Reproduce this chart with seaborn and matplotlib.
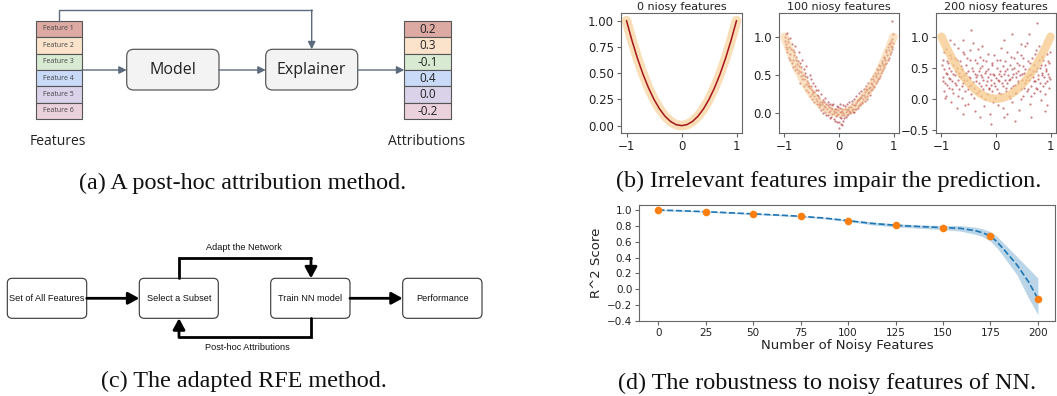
import matplotlib
matplotlib.use("Agg")
import matplotlib.pyplot as plt
from matplotlib.patches import Rectangle, FancyBboxPatch
import seaborn as sns

sns.set_style("ticks")
plt.rcParams['font.family'] = ['DejaVu Sans']

# ---------------- data ----------------
feature_names = ['Feature 1', 'Feature 2', 'Feature 3', 'Feature 4', 'Feature 5', 'Feature 6']
feature_colors = ['#dcaaa3', '#fbe3cb', '#d9ead3', '#c9daf8', '#d9d2e9', '#ead1dc']
attributions = [0.2, 0.3, -0.1, 0.4, 0.0, -0.2]

rfe_boxes = ['Set of All Features', 'Select a Subset', 'Train NN model', 'Performance']
loop_labels = ['Adapt the Network', 'Post-hoc Attributions']

noise_titles = ['0 niosy features', '100 niosy features', '200 niosy features']

# true target curve (orange band) and noiseless prediction (red line)
true_x = [-1.0, -0.9, -0.8, -0.7, -0.6, -0.5, -0.4, -0.3, -0.2, -0.1, 0.0,
          0.1, 0.2, 0.3, 0.4, 0.5, 0.6, 0.7, 0.8, 0.9, 1.0]
true_y = [1.0, 0.81, 0.64, 0.49, 0.36, 0.25, 0.16, 0.09, 0.04, 0.01, 0.0,
          0.01, 0.04, 0.09, 0.16, 0.25, 0.36, 0.49, 0.64, 0.81, 1.0]
pred0_y = [1.0, 0.81, 0.64, 0.49, 0.36, 0.25, 0.16, 0.09, 0.04, 0.01, 0.0,
           0.01, 0.04, 0.09, 0.16, 0.25, 0.36, 0.49, 0.64, 0.81, 1.0]

pred100_points = [
    (-0.99, 0.95), (-0.98, 0.87), (-0.97, 1.03), (-0.95, 0.80), (-0.94, 0.93), (-0.92, 0.72),
    (-0.91, 0.86), (-0.90, 0.98), (-0.89, 0.78), (-0.87, 0.90), (-0.86, 0.65), (-0.85, 0.82),
    (-0.84, 0.70), (-0.82, 0.76), (-0.81, 0.88), (-0.80, 0.62), (-0.78, 0.74), (-0.77, 0.58),
    (-0.76, 0.68), (-0.74, 0.80), (-0.73, 0.55), (-0.72, 0.66), (-0.70, 0.48), (-0.69, 0.60),
    (-0.68, 0.70), (-0.66, 0.50), (-0.65, 0.58), (-0.64, 0.44), (-0.62, 0.52), (-0.61, 0.62),
    (-0.60, 0.38), (-0.58, 0.47), (-0.57, 0.36), (-0.56, 0.40), (-0.54, 0.50), (-0.53, 0.33),
    (-0.52, 0.44), (-0.50, 0.25), (-0.49, 0.30), (-0.48, 0.40), (-0.46, 0.22), (-0.45, 0.28),
    (-0.44, 0.36), (-0.42, 0.19), (-0.41, 0.24), (-0.40, 0.16), (-0.38, 0.30), (-0.37, 0.12),
    (-0.36, 0.20), (-0.34, 0.10), (-0.33, 0.25), (-0.32, 0.14), (-0.30, 0.06), (-0.29, 0.17),
    (-0.28, 0.09), (-0.26, 0.20), (-0.25, 0.02), (-0.24, 0.12), (-0.22, 0.06), (-0.21, 0.15),
    (-0.20, -0.02), (-0.18, 0.08), (-0.17, 0.03), (-0.16, 0.12), (-0.14, -0.05), (-0.13, 0.05),
    (-0.12, 0.10), (-0.10, 0.00), (-0.09, -0.08), (-0.08, 0.06), (-0.06, 0.02), (-0.05, -0.04),
    (-0.04, 0.09), (-0.02, -0.01), (-0.01, 0.04), (0.00, -0.12), (0.01, 0.01), (0.02, 0.07),
    (0.03, -0.06), (0.05, 0.03), (0.06, -0.02), (0.07, 0.10), (0.08, 0.00), (0.10, -0.07),
    (0.11, 0.05), (0.12, 0.02), (0.14, 0.12), (0.15, -0.03), (0.16, 0.06), (0.18, 0.03),
    (0.19, 0.14), (0.20, 0.00), (0.22, 0.08), (0.23, 0.04), (0.24, 0.16), (0.26, 0.02),
    (0.27, 0.10), (0.28, 0.19), (0.30, 0.06), (0.31, 0.13), (0.32, 0.22), (0.34, 0.09),
    (0.35, 0.17), (0.36, 0.26), (0.38, 0.12), (0.39, 0.20), (0.40, 0.29), (0.42, 0.15),
    (0.43, 0.24), (0.44, 0.18), (0.46, 0.32), (0.47, 0.21), (0.48, 0.27), (0.50, 0.36),
    (0.51, 0.23), (0.52, 0.30), (0.54, 0.40), (0.55, 0.27), (0.56, 0.34), (0.58, 0.44),
    (0.59, 0.30), (0.60, 0.38), (0.62, 0.48), (0.63, 0.36), (0.64, 0.42), (0.66, 0.52),
    (0.67, 0.40), (0.68, 0.47), (0.70, 0.58), (0.71, 0.44), (0.72, 0.53), (0.74, 0.63),
    (0.75, 0.49), (0.76, 0.58), (0.78, 0.68), (0.79, 0.55), (0.80, 0.63), (0.82, 0.74),
    (0.83, 0.60), (0.84, 0.70), (0.86, 0.80), (0.87, 0.66), (0.88, 0.76), (0.90, 0.86),
    (0.91, 0.72), (0.92, 0.82), (0.94, 0.92), (0.95, 0.80), (0.96, 0.88), (0.97, 0.97),
    (0.98, 0.86), (0.99, 1.04), (0.97, 1.20), (0.00, -0.20), (-0.95, 1.05), (0.05, -0.16),
    (-0.96, 0.84), (-0.93, 0.97), (-0.90, 0.70), (-0.88, 0.84), (-0.85, 0.60), (-0.83, 0.80),
    (-0.81, 0.57), (-0.79, 0.70), (-0.77, 0.64), (-0.75, 0.52), (-0.73, 0.62), (-0.71, 0.40),
    (-0.69, 0.54), (-0.67, 0.45), (-0.65, 0.36), (-0.63, 0.48), (-0.61, 0.30), (-0.59, 0.42),
    (-0.57, 0.28), (-0.55, 0.35), (-0.53, 0.22), (-0.51, 0.36), (-0.49, 0.18), (-0.47, 0.27),
    (-0.45, 0.15), (-0.43, 0.30), (-0.41, 0.12), (-0.39, 0.22), (-0.37, 0.08), (-0.35, 0.15),
    (-0.33, 0.04), (-0.31, 0.12), (-0.29, 0.00), (-0.27, 0.14), (-0.25, 0.08), (-0.23, -0.03),
    (-0.21, 0.10), (-0.19, 0.01), (-0.17, -0.06), (-0.15, 0.07), (-0.13, -0.01), (-0.11, 0.12),
    (-0.09, 0.03), (-0.07, -0.10), (-0.05, 0.05), (-0.03, -0.03), (-0.01, 0.08), (0.01, -0.05),
    (0.03, 0.02), (0.04, -0.14), (0.06, 0.06), (0.09, -0.03), (0.11, 0.09), (0.13, -0.05),
    (0.15, 0.04), (0.17, -0.01), (0.19, 0.08), (0.21, 0.02), (0.23, 0.12), (0.25, 0.05),
    (0.27, 0.01), (0.29, 0.11), (0.31, 0.05), (0.33, 0.16), (0.35, 0.07), (0.37, 0.18),
    (0.39, 0.10), (0.41, 0.21), (0.43, 0.13), (0.45, 0.24), (0.47, 0.16), (0.49, 0.31),
    (0.51, 0.19), (0.53, 0.26), (0.55, 0.33), (0.57, 0.24), (0.59, 0.40), (0.61, 0.31),
    (0.63, 0.45), (0.65, 0.34), (0.67, 0.50), (0.69, 0.42), (0.71, 0.56), (0.73, 0.46),
    (0.75, 0.62), (0.77, 0.52), (0.79, 0.66), (0.81, 0.58), (0.83, 0.72), (0.85, 0.64),
    (0.87, 0.82), (0.89, 0.70), (0.91, 0.90), (0.93, 0.78), (0.95, 0.94), (0.97, 0.84),
    (0.99, 0.92), (-0.99, 1.00), (-0.97, 0.91), (0.02, 0.12), (-0.03, -0.12), (0.08, -0.10),
]

pred200_points = [
    (-0.98, 0.35), (-0.97, 0.62), (-0.96, 0.12), (-0.95, 0.48), (-0.93, 0.25), (-0.92, 0.80),
    (-0.91, 0.05), (-0.90, 0.40), (-0.88, 0.58), (-0.87, 0.18), (-0.86, 0.33), (-0.84, 0.70),
    (-0.83, -0.05), (-0.82, 0.45), (-0.80, 0.28), (-0.79, 0.55), (-0.78, 0.10), (-0.76, 0.38),
    (-0.75, 0.65), (-0.74, 0.22), (-0.72, 0.50), (-0.71, -0.15), (-0.70, 0.30), (-0.68, 0.42),
    (-0.67, 0.15), (-0.66, 0.60), (-0.64, 0.35), (-0.63, 0.02), (-0.62, 0.48), (-0.60, 0.25),
    (-0.59, 0.72), (-0.58, 0.38), (-0.56, 0.12), (-0.55, 0.55), (-0.54, 0.30), (-0.52, -0.08),
    (-0.51, 0.44), (-0.50, 0.20), (-0.48, 0.62), (-0.47, 0.33), (-0.46, 0.08), (-0.44, 0.50),
    (-0.43, 0.27), (-0.42, 0.90), (-0.40, 0.18), (-0.39, 0.40), (-0.38, -0.20), (-0.36, 0.35),
    (-0.35, 0.58), (-0.34, 0.10), (-0.32, 0.45), (-0.31, 0.25), (-0.30, 0.68), (-0.28, 0.05),
    (-0.27, 0.38), (-0.26, 0.52), (-0.24, 0.15), (-0.23, 0.30), (-0.22, -0.12), (-0.20, 0.42),
    (-0.19, 0.22), (-0.18, 0.60), (-0.16, 0.08), (-0.15, 0.35), (-0.14, 0.48), (-0.12, 0.18),
    (-0.11, -0.25), (-0.10, 0.30), (-0.08, 0.55), (-0.07, 0.12), (-0.06, 0.40), (-0.04, 0.25),
    (-0.03, 0.70), (-0.02, 0.02), (0.00, 0.33), (0.01, 0.50), (0.02, 0.15), (0.04, -0.10),
    (0.05, 0.40), (0.06, 0.28), (0.08, 0.62), (0.09, 0.08), (0.10, 0.36), (0.12, 0.20),
    (0.13, 0.52), (0.14, -0.30), (0.16, 0.30), (0.17, 0.45), (0.18, 0.12), (0.20, 0.75),
    (0.21, 0.25), (0.22, 0.38), (0.24, 0.05), (0.25, 0.55), (0.26, 0.32), (0.28, 0.18),
    (0.29, 0.48), (0.30, -0.05), (0.32, 0.40), (0.33, 0.65), (0.34, 0.22), (0.36, 0.35),
    (0.37, 0.10), (0.38, 0.58), (0.40, 0.28), (0.41, 0.45), (0.42, -0.18), (0.44, 0.38),
    (0.45, 0.15), (0.46, 0.70), (0.48, 0.30), (0.49, 0.52), (0.50, 0.05), (0.52, 0.42),
    (0.53, 0.25), (0.54, 0.85), (0.56, 0.35), (0.57, 0.12), (0.58, 0.60), (0.60, 0.30),
    (0.61, 0.48), (0.62, -0.08), (0.64, 0.40), (0.65, 0.20), (0.66, 0.66), (0.68, 0.35),
    (0.69, 0.10), (0.70, 0.55), (0.72, 0.28), (0.73, 0.78), (0.74, 0.45), (0.76, 0.15),
    (0.77, 0.38), (0.78, 0.62), (0.80, 0.25), (0.81, 0.50), (0.82, -0.02), (0.84, 0.42),
    (0.85, 0.68), (0.86, 0.20), (0.88, 0.35), (0.89, 0.55), (0.90, 0.08), (0.92, 0.45),
    (0.93, 0.72), (0.94, 0.28), (0.96, 0.40), (0.97, 0.18), (0.98, 0.58), (0.99, 0.32),
    (0.75, 1.22), (-0.45, 1.10), (0.60, 1.05), (-0.10, -0.40), (0.35, -0.35), (-0.60, -0.25),
    (0.90, -0.20), (-0.85, 0.95), (0.15, 0.95), (-0.25, 0.85), (0.45, 0.88), (-0.70, 0.82),
    (-0.99, 0.55), (-0.97, 0.28), (-0.95, 0.75), (-0.94, 0.02), (-0.92, 0.42), (-0.90, 0.60),
    (-0.89, 0.22), (-0.87, 0.50), (-0.85, 0.32), (-0.83, 0.65), (-0.81, 0.15), (-0.79, 0.40),
    (-0.77, 0.88), (-0.75, 0.25), (-0.73, 0.45), (-0.71, 0.62), (-0.69, 0.05), (-0.67, 0.36),
    (-0.65, 0.52), (-0.63, 0.20), (-0.61, 0.75), (-0.59, 0.30), (-0.57, -0.10), (-0.55, 0.42),
    (-0.53, 0.65), (-0.51, 0.15), (-0.49, 0.35), (-0.47, 0.78), (-0.45, 0.22), (-0.43, 0.45),
    (-0.41, 0.02), (-0.39, 0.62), (-0.37, 0.28), (-0.35, 0.38), (-0.33, 0.80), (-0.31, 0.12),
    (-0.29, 0.50), (-0.27, 0.20), (-0.25, 0.35), (-0.23, 0.62), (-0.21, 0.00), (-0.19, 0.45),
    (-0.17, 0.28), (-0.15, 0.72), (-0.13, 0.15), (-0.11, 0.40), (-0.09, 0.22), (-0.07, 0.58),
    (-0.05, -0.05), (-0.03, 0.38), (-0.01, 0.20), (0.01, 0.62), (0.03, 0.30), (0.05, 0.10),
    (0.07, 0.45), (0.09, 0.82), (0.11, 0.25), (0.13, -0.15), (0.15, 0.40), (0.17, 0.60),
    (0.19, 0.18), (0.21, 0.48), (0.23, 0.30), (0.25, 0.02), (0.27, 0.68), (0.29, 0.35),
    (0.31, 0.20), (0.33, 0.50), (0.35, 0.10), (0.37, 0.42), (0.39, 0.75), (0.41, 0.25),
    (0.43, 0.55), (0.45, 0.00), (0.47, 0.40), (0.49, 0.65), (0.51, 0.18), (0.53, 0.48),
    (0.55, 0.30), (0.57, 0.90), (0.59, 0.15), (0.61, 0.38), (0.63, 0.58), (0.65, 0.05),
    (0.67, 0.45), (0.69, 0.28), (0.71, 0.72), (0.73, 0.18), (0.75, 0.50), (0.77, 0.32),
    (0.79, 0.85), (0.81, 0.12), (0.83, 0.55), (0.85, 0.38), (0.87, 0.62), (0.89, 0.25),
    (0.91, 0.48), (0.93, -0.10), (0.95, 0.60), (0.97, 0.35), (0.99, 0.75), (-0.60, 0.95),
    (0.20, -0.25), (-0.30, -0.30), (0.65, -0.30), (0.30, 1.05),
]

# robustness panel
noisy_counts = [0, 25, 50, 75, 100, 125, 150, 175, 200]
r2_scores = [1.0, 0.979, 0.951, 0.921, 0.866, 0.807, 0.778, 0.672, -0.118]
curve_x = [0, 12.5, 25, 37.5, 50, 62.5, 75, 87.5, 100, 112.5, 125, 137.5, 150,
           159, 167, 171, 175, 178.5, 182, 189, 195, 200]
curve_y = [1.0, 0.99, 0.979, 0.965, 0.951, 0.937, 0.921, 0.898, 0.866, 0.831, 0.807, 0.791, 0.778,
           0.769, 0.739, 0.712, 0.672, 0.597, 0.504, 0.306, 0.096, -0.118]
band_lo = [0.992, 0.982, 0.971, 0.957, 0.943, 0.929, 0.912, 0.888, 0.854, 0.813, 0.787, 0.769, 0.753,
           0.734, 0.694, 0.662, 0.605, 0.52, 0.41, 0.18, -0.11, -0.32]
band_hi = [1.008, 0.998, 0.987, 0.973, 0.959, 0.945, 0.930, 0.908, 0.878, 0.849, 0.827, 0.813, 0.803,
           0.804, 0.784, 0.762, 0.726, 0.665, 0.58, 0.41, 0.265, 0.14]

# ---------------- figure ----------------
W, H = 1057, 396
fig = plt.figure(figsize=(W / 100, H / 100), dpi=100)
ax0 = fig.add_axes([0, 0, 1, 1], zorder=0)
ax0.set_xlim(0, W)
ax0.set_ylim(H, 0)
ax0.axis('off')

cap_font = dict(family='Liberation Serif', fontsize=17.4, ha='center', va='center', color='#111111')

# ----- panel (a) -----
acol = '#5c6a7e'
afont = 'Open Sans'
top_a, rh = 20.7, 16.4
fx0, fx1 = 35.7, 81.7
tx0, tx1 = 404.3, 451.0
for i, (name, col, val) in enumerate(zip(feature_names, feature_colors, attributions)):
    y = top_a + i * rh
    ax0.add_patch(Rectangle((fx0, y), fx1 - fx0, rh, fc=col, ec='#555555', lw=0.8))
    ax0.text((fx0 + fx1) / 2, y + rh / 2, name, fontsize=5, family=afont,
             ha='center', va='center', color='#444444')
    ax0.add_patch(Rectangle((tx0, y), tx1 - tx0, rh, fc=col, ec='#555555', lw=0.8))
    ax0.text((tx0 + tx1) / 2, y + rh / 2 + 0.5, f"{val:.1f}", fontsize=8.5, family=afont,
             ha='center', va='center', color='#222222')

for (x0, x1, label) in [(126.7, 219.0, 'Model'), (265.7, 357.7, 'Explainer')]:
    ax0.add_patch(FancyBboxPatch((x0, 49.3), x1 - x0, 40.7,
                                 boxstyle="round,pad=0,rounding_size=7",
                                 fc='#f3f3f3', ec='#595959', lw=0.9))
    ax0.text((x0 + x1) / 2, 70, label, fontsize=11.5, family=afont,
             ha='center', va='center', color='#222222')

arr_a = dict(arrowstyle='-|>,head_length=0.5,head_width=0.25', color=acol, lw=1.0,
             shrinkA=0, shrinkB=0, mutation_scale=9)
for (xa, xb) in [(fx1, 126.7), (219.0, 265.7), (357.7, tx0)]:
    ax0.annotate('', xy=(xb, 70), xytext=(xa, 70), arrowprops=arr_a)
ax0.plot([58.7, 58.7, 311.7], [top_a, 10, 10], color=acol, lw=1.0, solid_joinstyle='miter')
ax0.annotate('', xy=(311.7, 49.3), xytext=(311.7, 10), arrowprops=arr_a)

ax0.text(58.3, 141.7, 'Features', fontsize=10, family=afont, ha='center', va='center', color='#222222')
ax0.text(426.7, 141.7, 'Attributions', fontsize=10, family=afont, ha='center', va='center', color='#222222')
ax0.text(242.5, 183, '(a) A post-hoc attribution method.', **cap_font)

# ----- panel (c) -----
cfont = 'Liberation Sans'
by0, by1 = 278.3, 318.3
bym = (by0 + by1) / 2
box_x = [(7.3, 86.7), (139.3, 218.3), (270.7, 350.0), (402.7, 482.0)]
for (x0, x1), label in zip(box_x, rfe_boxes):
    ax0.add_patch(FancyBboxPatch((x0, by0), x1 - x0, by1 - by0,
                                 boxstyle="round,pad=0,rounding_size=5",
                                 fc='white', ec='#333333', lw=0.8))
    ax0.text((x0 + x1) / 2, bym, label, fontsize=6.6, family=cfont,
             ha='center', va='center', color='#111111')
arr_c = dict(arrowstyle='-|>,head_length=0.55,head_width=0.3', color='black', lw=2.0,
             shrinkA=0, shrinkB=0, mutation_scale=12)
ax0.annotate('', xy=(box_x[1][0], bym), xytext=(box_x[0][1], bym), arrowprops=arr_c)
ax0.annotate('', xy=(box_x[3][0], bym), xytext=(box_x[2][1], bym), arrowprops=arr_c)
ax0.plot([179, 179, 311], [by0, 258.3, 258.3], color='black', lw=2.0, solid_joinstyle='miter')
ax0.annotate('', xy=(311, by0), xytext=(311, 258.3), arrowprops=arr_c)
ax0.plot([311, 311, 179], [by1, 337.3, 337.3], color='black', lw=2.0, solid_joinstyle='miter')
ax0.annotate('', xy=(179, by1), xytext=(179, 337.3), arrowprops=arr_c)
ax0.text(244.3, 247.3, loop_labels[0], fontsize=6.6, family=cfont, ha='center', va='center', color='#111111')
ax0.text(247.7, 347.3, loop_labels[1], fontsize=6.6, family=cfont, ha='center', va='center', color='#111111')
ax0.text(243.5, 381.7, '(c) The adapted RFE method.', **cap_font)

# ----- panel (b) -----
def px_axes(l, r, t, b):
    return fig.add_axes([l / W, 1 - b / H, (r - l) / W, (b - t) / H], zorder=2)

spine_col = '#666666'

def style_axes(ax, labelsize):
    for s in ax.spines.values():
        s.set_color(spine_col)
        s.set_linewidth(0.8)
        s.set_visible(True)
    ax.tick_params(labelsize=labelsize, length=3, width=0.8, color=spine_col,
                   labelcolor='#222222', pad=2)

band_col = '#f6c98a'
red_col = '#a3161a'

axb1 = px_axes(621, 742, 13, 133)
sns.lineplot(x=true_x, y=true_y, ax=axb1, color=band_col, lw=7, alpha=0.6,
             solid_capstyle='round')
sns.lineplot(x=true_x, y=pred0_y, ax=axb1, color=red_col, lw=1.1)
axb1.set_xlim(-1.1, 1.1)
axb1.set_ylim(-0.07, 1.073)
axb1.set_yticks([0, 0.25, 0.5, 0.75, 1.0])
axb1.set_yticklabels(['0.00', '0.25', '0.50', '0.75', '1.00'])

axb2 = px_axes(779, 899, 13, 133)
sns.scatterplot(x=[p[0] for p in pred100_points], y=[p[1] for p in pred100_points], ax=axb2,
                color=red_col, s=2.5, alpha=0.55, linewidth=0)
sns.lineplot(x=true_x, y=true_y, ax=axb2, color=band_col, lw=6, alpha=0.5,
             solid_capstyle='round')
axb2.set_xlim(-1.1, 1.1)
axb2.set_ylim(-0.26, 1.31)
axb2.set_yticks([0.0, 0.5, 1.0])

axb3 = px_axes(936, 1056, 13, 133)
sns.scatterplot(x=[p[0] for p in pred200_points], y=[p[1] for p in pred200_points], ax=axb3,
                color=red_col, s=2.5, alpha=0.55, linewidth=0)
sns.lineplot(x=true_x, y=true_y, ax=axb3, color=band_col, lw=6, alpha=0.75,
             solid_capstyle='round')
axb3.set_xlim(-1.1, 1.1)
axb3.set_ylim(-0.55, 1.38)
axb3.set_yticks([-0.5, 0.0, 0.5, 1.0])

for ax, title in zip([axb1, axb2, axb3], noise_titles):
    ax.set_xticks([-1, 0, 1])
    ax.set_title(title, fontsize=8, pad=2, color='#222222')
    style_axes(ax, 8.5)

ax0.text(828.5, 181.7, '(b) Irrelevant features impair the prediction.', **cap_font)

# ----- panel (d) -----
axd = px_axes(639.3, 1055, 205, 321)
axd.fill_between(curve_x, band_lo, band_hi, color='#1f77b4', alpha=0.3, lw=0)
sns.lineplot(x=curve_x, y=curve_y, ax=axd, color='#1f77b4', lw=1.2, linestyle='--')
sns.scatterplot(x=noisy_counts, y=r2_scores, ax=axd, color='#ff7f0e', s=30, linewidth=0, zorder=3)
axd.set_xlim(-10, 209)
axd.set_ylim(-0.4, 1.063)
axd.set_xticks(noisy_counts)
axd.set_yticks([-0.4, -0.2, 0.0, 0.2, 0.4, 0.6, 0.8, 1.0])
axd.set_xlabel('Number of Noisy Features', fontsize=9.5, labelpad=1, color='#222222')
axd.set_ylabel('R^2 Score', fontsize=9.5, labelpad=3, color='#222222')
style_axes(axd, 7.5)

ax0.text(826.7, 383.3, '(d) The robustness to noisy features of NN.', **cap_font)

fig.savefig('out.png', dpi=100)
